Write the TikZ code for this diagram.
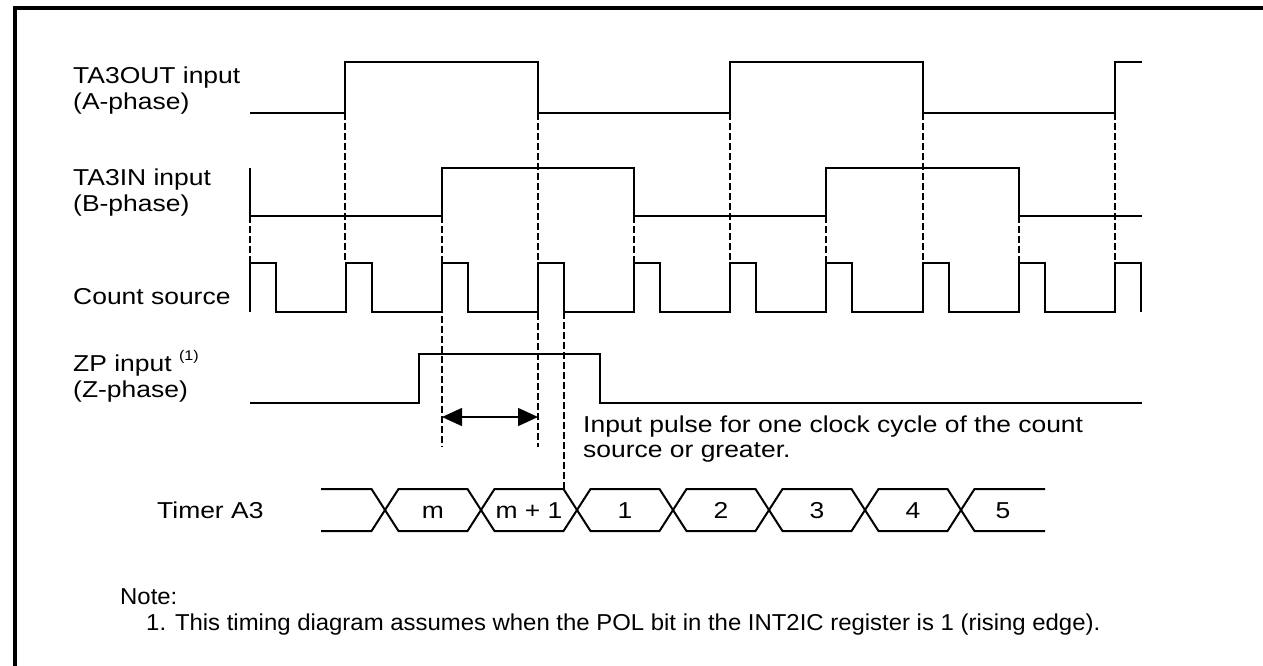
\documentclass[tikz,border=0pt]{standalone}
\usepackage{fontspec}
\setmainfont{Liberation Sans}[FakeStretch=1.15]
\newfontfamily\notefont{Liberation Sans}[FakeStretch=1.04]
\usetikzlibrary{arrows.meta}
\begin{document}
\begin{tikzpicture}[x=1pt,y=-1pt,
  wave/.style={line width=2pt, line join=miter},
  guide/.style={line width=1.3pt, dash pattern=on 7pt off 3pt},
  lbl/.style={anchor=base west, inner sep=0pt, font=\fontsize{23}{27}\selectfont},
  notelbl/.style={anchor=base west, inner sep=0pt, font=\notefont\fontsize{23}{27}\selectfont},
  val/.style={anchor=base, inner sep=0pt, font=\fontsize{23}{27}\selectfont}]
\useasboundingbox (0,0) rectangle (1263,665);
% frame
\draw[line width=3.3pt] (15,670) -- (15,8) -- (1270,8);
% labels
\node[lbl] (outA) at (73,83) {TA3OUT input};
\node[lbl] (outB) at (73,109) {(A-phase)};
\node[lbl] (inA) at (73,185) {TA3IN input};
\node[lbl] (inB) at (73,211) {(B-phase)};
\node[lbl] (cnt) at (73,304) {Count source};
\node[lbl] (zpA) at (73,371) {ZP input \raisebox{0.45em}{\fontsize{14}{16}\selectfont(1)}};
\node[lbl] (zpB) at (73,397) {(Z-phase)};
\node[lbl] (pulseA) at (583,432) {Input pulse for one clock cycle of the count};
\node[lbl] (pulseB) at (583,457) {source or greater.};
\node[lbl] (tmr) at (157,518) {Timer A3};
\node[notelbl] (note) at (120,604) {Note:};
\node[notelbl] (note1) at (146,630) {1. This timing diagram assumes when the POL bit in the INT2IC register is 1 (rising edge).};
% guides
\foreach \x in {345,538,730,923,1115} \draw[guide] (\x,113) -- (\x,263);
\foreach \x in {250,634,826,1019} \draw[guide] (\x,216) -- (\x,263);
\draw[guide] (442,216) -- (442,447);
\draw[guide] (538,263) -- (538,447);
\draw[guide] (564,312) -- (564,489);
% TA3OUT
\draw[wave] (250,113) -| (345,62) -| (538,113) -| (730,62) -| (923,113) -| (1115,62) -- (1142,62);
% TA3IN
\draw[wave] (250,168) -- (250,216) -| (442,168) -| (634,216) -| (826,168) -| (1019,216) -- (1142,216);
% count source
\draw[wave] (250,312) \foreach \x in {250,346,442,538,634,730,826,923,1019,1115} { -- (\x,312) -- (\x,263) -- ({\x+26},263) -- ({\x+26},312) };
% ZP
\draw[wave] (250,403) -| (419,354) -| (600,403) -- (1142,403);
% arrow
\coordinate (aL) at (442,417);
\coordinate (aR) at (538,417);
\draw[line width=1.5pt, {Triangle[length=20pt,width=18pt]}-{Triangle[length=20pt,width=18pt]}] (aL) -- (aR);
% bus
\draw[wave] (321,489) \foreach \c [count=\i] in {385,481,577,673,769,865,961} {
  -- ({\c-13.5},{ifthenelse(mod(\i,2)==1,489,531)}) -- ({\c+13.5},{ifthenelse(mod(\i,2)==1,531,489)}) } -- (1045,531);
\draw[wave] (321,531) \foreach \c [count=\i] in {385,481,577,673,769,865,961} {
  -- ({\c-13.5},{ifthenelse(mod(\i,2)==1,531,489)}) -- ({\c+13.5},{ifthenelse(mod(\i,2)==1,489,531)}) } -- (1045,489);
\node[val] (v1) at (433,518) {m};
\node[val] (v2) at (529,518) {m + 1};
\node[val] (v3) at (625,518) {1};
\node[val] (v4) at (721,518) {2};
\node[val] (v5) at (817,518) {3};
\node[val] (v6) at (913,518) {4};
\node[val] (v7) at (1003,518) {5};
\end{tikzpicture}
\end{document}
